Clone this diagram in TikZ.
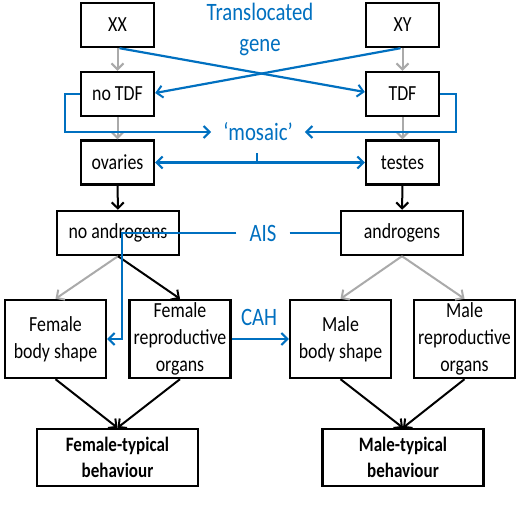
\documentclass[tikz,border=0pt]{standalone}
\usepackage{fontspec}
\setmainfont{Carlito}[FakeStretch=0.83]
\usetikzlibrary{arrows.meta,calc}
\definecolor{offblue}{RGB}{0,112,192}
\definecolor{arrgray}{RGB}{170,170,170}
\tikzset{
  box/.style={draw=black, line width=2.4pt, fill=white, align=center, inner sep=0pt,
    font=\fontsize{21.5}{27}\selectfont, text=black},
  small/.style={box, minimum width=73pt, minimum height=44pt},
  wide/.style={box, minimum width=122pt, minimum height=44pt},
  tall/.style={box, minimum width=101pt, minimum height=78pt},
  beh/.style={box, minimum width=161pt, minimum height=57pt, font=\fontsize{20.5}{25.5}\selectfont\bfseries},
  lbl/.style={text=offblue, font=\fontsize{25}{31}\selectfont, align=center},
  tip/.style={-{Straight Barb[length=6pt,width=12pt,line width=2pt]}},
  garr/.style={draw=arrgray, line width=2pt, tip},
  karr/.style={draw=black, line width=2pt, tip},
  barr/.style={draw=offblue, line width=2.2pt},
}
\begin{document}
\begin{tikzpicture}[x=1pt,y=-1pt]
\useasboundingbox[fill=white] (0,0) rectangle (520,506);
% boxes
\node[small] (XX) at (117.5,25) {XX};
\node[small] (XY) at (402.5,25) {XY};
\node[small] (noTDF) at (117.5,94) {no TDF};
\node[small] (TDF) at (402.5,94) {TDF};
\node[small] (ovaries) at (117.5,162.5) {ovaries};
\node[small] (testes) at (402.5,162.5) {testes};
\node[wide] (noandr) at (118,233) {no androgens};
\node[wide] (andr) at (402,233) {androgens};
\node[tall] (fbody) at (55.5,339) {Female\\body shape};
\node[tall] (frepro) at (180,339) {Female\\reproductive\\organs};
\node[tall] (mbody) at (340.5,339) {Male\\body shape};
\node[tall] (mrepro) at (464.5,339) {Male\\reproductive\\organs};
\node[beh] (fbeh) at (117.5,457.5) {Female-typical\\behaviour};
\node[beh] (mbeh) at (403,457.5) {Male-typical\\behaviour};
% labels
\node[lbl] (gene) at (260,29) {Translocated\\gene};
\node[lbl, inner xsep=12pt] (mosaic) at (258,132) {‘mosaic’};
\node[lbl, inner xsep=13pt] (AIS) at (263,233) {AIS};
\node[lbl] (CAH) at (259,317) {CAH};
% gray arrows
\draw[garr] (XX) -- (noTDF);
\draw[garr] (noTDF) -- (ovaries);
\draw[garr] (XY) -- (TDF);
\draw[garr] (TDF) -- (testes);
\draw[garr] (noandr.south) -- (fbody.north);
\draw[garr] (andr.south) -- (mbody.north);
\draw[garr] (andr.south) -- (mrepro.north);
% black arrows
\draw[karr] (ovaries) -- (noandr);
\draw[karr] (testes) -- (andr);
\draw[karr] (noandr.south) -- (frepro.north);
\draw[karr] (fbody.south) -- (fbeh.north);
\draw[karr] (frepro.south) -- (fbeh.north);
\draw[karr] (mbody.south) -- (mbeh.north);
\draw[karr] (mrepro.south) -- (mbeh.north);
% blue connectors
\draw[barr, tip] ([xshift=2pt]XX.south) -- ([yshift=2pt]TDF.west);
\draw[barr, tip] ([xshift=-2pt]XY.south) -- ([yshift=1pt]noTDF.east);
\draw[barr, tip] (noTDF.west) -- ++(-15,0) |- (mosaic.west);
\draw[barr, tip] (TDF.east) -- ++(16,0) |- (mosaic.east);
\draw[barr, {Straight Barb[length=6pt,width=12pt,line width=2pt]}-{Straight Barb[length=6pt,width=12pt,line width=2pt]}] (ovaries.east) -- (testes.west);
\coordinate (tick) at ($(ovaries.east)!0.485!(testes.west)$);
\draw[barr] (tick) -- ++(0,-10);
\coordinate (aisbend) at (122,233);
\draw[barr, tip] (AIS.west) -- (aisbend) |- (fbody.east);
\draw[barr] (AIS.east) -- (andr.west);
\draw[barr, tip] (frepro.east) -- (mbody.west);
\end{tikzpicture}
\end{document}
